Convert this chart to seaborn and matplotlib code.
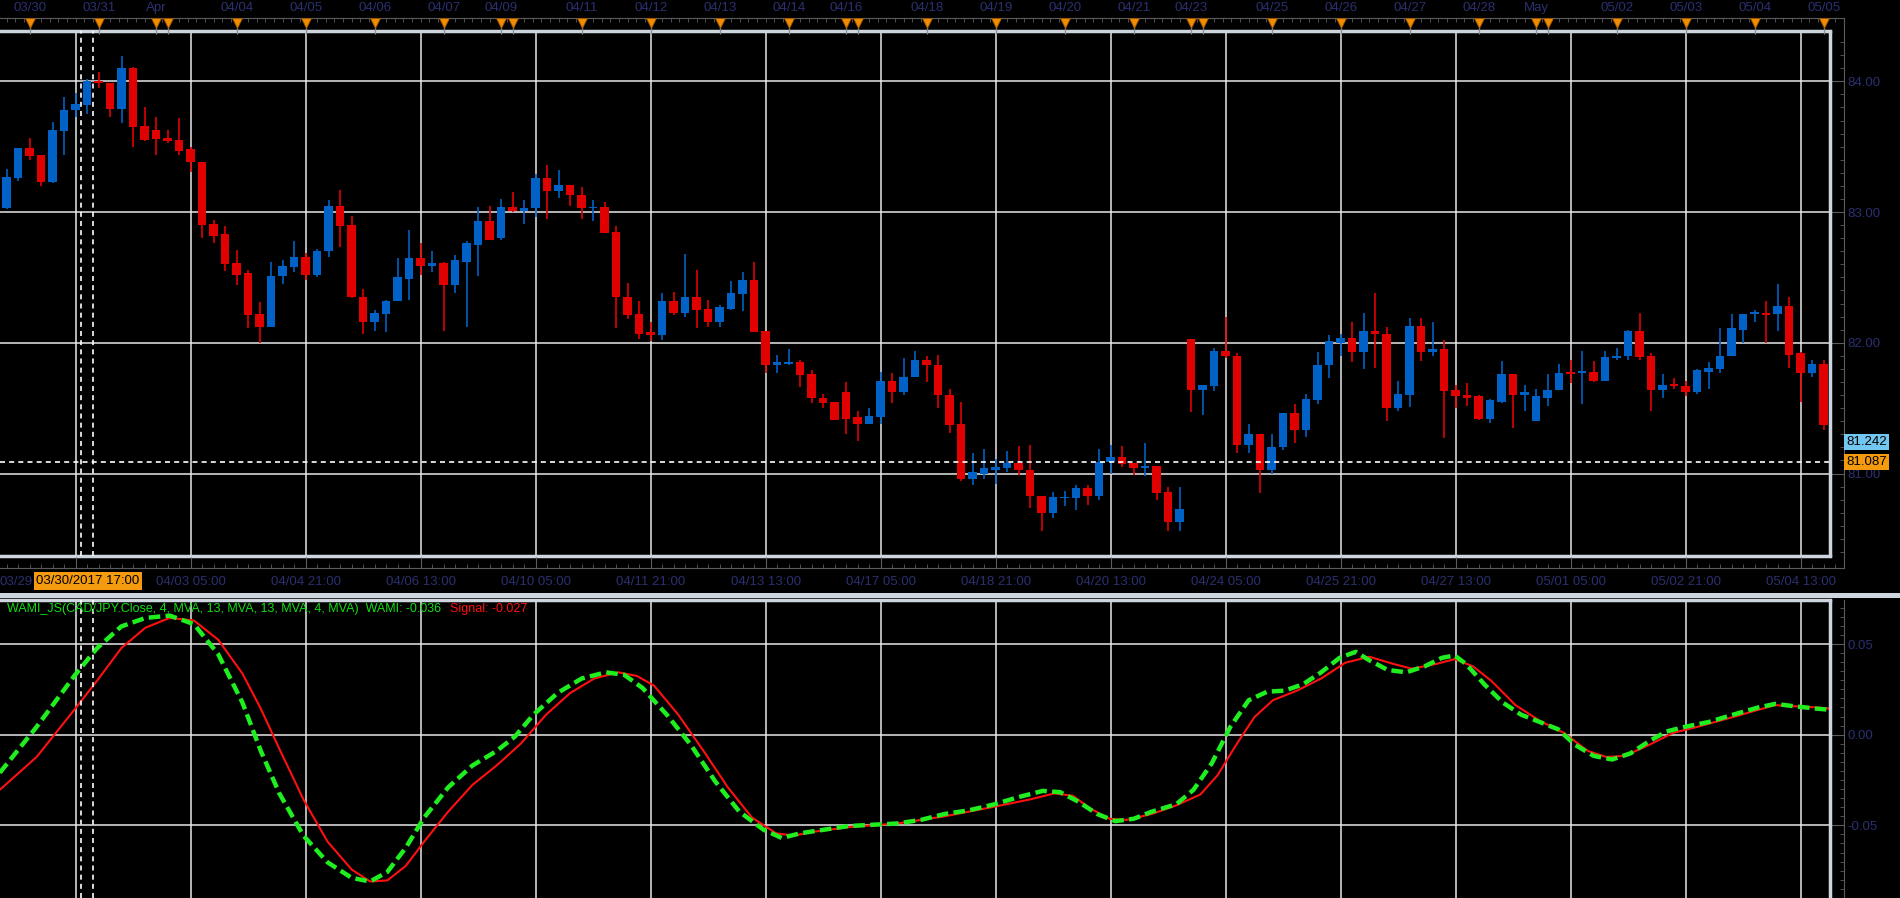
import matplotlib
matplotlib.use("Agg")
import numpy as np
import pandas as pd
import matplotlib.pyplot as plt
from matplotlib.ticker import FixedLocator, MultipleLocator, FormatStrFormatter
from matplotlib.patches import Rectangle
from matplotlib.transforms import blended_transform_factory
import seaborn as sns

# ---------------------- Data (CAD/JPY, 4h candles) ----------------------
opens = [83.03, 83.26, 83.49, 83.44, 83.23, 83.62, 83.78, 83.82, 84.00, 83.99,
         83.79, 84.10, 83.66, 83.63, 83.57, 83.55, 83.48, 83.38, 82.91, 82.83,
         82.61, 82.53, 82.22, 82.12, 82.51, 82.58, 82.66, 82.52, 82.70, 83.05,
         82.90, 82.35, 82.16, 82.22, 82.32, 82.49, 82.65, 82.59, 82.61, 82.44,
         82.62, 82.75, 82.93, 82.80, 83.04, 83.01, 83.03, 83.26, 83.16, 83.21,
         83.13, 83.03, 83.04, 82.85, 82.35, 82.22, 82.08, 82.06, 82.32, 82.23,
         82.35, 82.26, 82.16, 82.26, 82.37, 82.48, 82.09, 81.83, 81.84, 81.85,
         81.76, 81.58, 81.55, 81.62, 81.43, 81.38, 81.43, 81.71, 81.62, 81.74,
         81.87, 81.83, 81.60, 81.38, 80.96, 81.00, 81.03, 81.04, 81.08, 81.03,
         80.83, 80.70, 80.81, 80.81, 80.89, 80.83, 81.09, 81.13, 81.08, 81.04,
         81.06, 80.86, 80.63, 82.03, 81.64, 81.67, 81.94, 81.90, 81.22, 81.30,
         81.03, 81.20, 81.46, 81.33, 81.56, 81.83, 82.00, 82.04, 81.93, 82.09,
         82.07, 81.50, 81.60, 82.13, 81.93, 81.95, 81.64, 81.60, 81.59, 81.42,
         81.55, 81.76, 81.60, 81.40, 81.58, 81.64, 81.775, 81.77, 81.78, 81.71,
         81.88, 81.90, 82.09, 81.90, 81.64, 81.68, 81.67, 81.62, 81.78, 81.80,
         81.90, 82.10, 82.22, 82.225, 82.22, 82.28, 81.92, 81.77, 81.84]
highs = [83.33, 83.49, 83.57, 83.44, 83.69, 83.88, 83.91, 84.02, 84.07, 83.99,
         84.19, 84.11, 83.80, 83.73, 83.63, 83.72, 83.50, 83.38, 82.94, 82.89,
         82.71, 82.56, 82.31, 82.62, 82.63, 82.78, 82.69, 82.72, 83.09, 83.17,
         82.97, 82.41, 82.25, 82.33, 82.65, 82.86, 82.76, 82.70, 82.62, 82.67,
         82.78, 83.04, 83.05, 83.10, 83.15, 83.09, 83.29, 83.36, 83.32, 83.21,
         83.19, 83.09, 83.08, 82.89, 82.46, 82.32, 82.16, 82.38, 82.39, 82.68,
         82.56, 82.33, 82.29, 82.47, 82.54, 82.62, 82.09, 81.91, 81.95, 81.87,
         81.79, 81.61, 81.55, 81.70, 81.48, 81.50, 81.78, 81.77, 81.88, 81.94,
         81.90, 81.91, 81.65, 81.55, 81.16, 81.19, 81.11, 81.17, 81.21, 81.22,
         80.83, 80.86, 80.87, 80.91, 80.91, 81.19, 81.22, 81.21, 81.08, 81.23,
         81.06, 80.90, 80.90, 82.03, 81.68, 81.96, 82.20, 81.92, 81.38, 81.30,
         81.30, 81.46, 81.53, 81.61, 81.93, 82.06, 82.07, 82.16, 82.23, 82.38,
         82.12, 81.71, 82.19, 82.19, 82.16, 82.02, 81.68, 81.69, 81.60, 81.57,
         81.86, 81.76, 81.68, 81.65, 81.76, 81.84, 81.87, 81.94, 81.86, 81.94,
         81.96, 82.10, 82.23, 81.92, 81.76, 81.73, 81.71, 81.80, 81.85, 82.11,
         82.22, 82.22, 82.25, 82.32, 82.45, 82.35, 81.93, 81.87, 81.87]
lows = [83.02, 83.24, 83.40, 83.20, 83.22, 83.44, 83.73, 83.75, 83.95, 83.73,
        83.68, 83.50, 83.54, 83.44, 83.53, 83.44, 83.31, 82.80, 82.76, 82.55,
        82.44, 82.11, 82.00, 82.12, 82.45, 82.54, 82.48, 82.50, 82.66, 82.73,
        82.34, 82.07, 82.09, 82.08, 82.32, 82.33, 82.52, 82.54, 82.09, 82.38,
        82.12, 82.51, 82.79, 82.79, 83.00, 82.91, 82.96, 82.95, 83.11, 83.05,
        82.95, 82.93, 82.84, 82.11, 82.18, 82.03, 82.01, 82.02, 82.21, 82.20,
        82.11, 82.12, 82.12, 82.25, 82.24, 82.08, 81.77, 81.77, 81.83, 81.66,
        81.54, 81.50, 81.41, 81.30, 81.25, 81.38, 81.38, 81.54, 81.60, 81.74,
        81.70, 81.50, 81.31, 80.94, 80.91, 80.96, 80.92, 81.01, 80.99, 80.74,
        80.56, 80.66, 80.75, 80.72, 80.76, 80.80, 81.00, 81.05, 80.99, 80.98,
        80.80, 80.56, 80.56, 81.47, 81.45, 81.63, 81.88, 81.16, 81.16, 80.85,
        81.00, 81.18, 81.23, 81.28, 81.53, 81.73, 81.90, 81.85, 81.80, 81.81,
        81.40, 81.48, 81.51, 81.86, 81.90, 81.27, 81.50, 81.52, 81.41, 81.39,
        81.54, 81.35, 81.48, 81.40, 81.52, 81.64, 81.69, 81.53, 81.70, 81.71,
        81.87, 81.87, 81.87, 81.48, 81.58, 81.65, 81.59, 81.61, 81.65, 81.77,
        81.90, 82.00, 82.16, 82.00, 82.09, 81.81, 81.55, 81.74, 81.33]
closes = [83.27, 83.49, 83.43, 83.23, 83.63, 83.78, 83.83, 84.00, 83.99, 83.79,
          84.10, 83.65, 83.55, 83.56, 83.54, 83.47, 83.38, 82.90, 82.82, 82.60,
          82.52, 82.21, 82.12, 82.51, 82.59, 82.66, 82.52, 82.70, 83.05, 82.89,
          82.35, 82.16, 82.23, 82.32, 82.50, 82.65, 82.59, 82.61, 82.44, 82.63,
          82.76, 82.93, 82.79, 83.04, 83.01, 83.03, 83.26, 83.16, 83.21, 83.13,
          83.03, 83.04, 82.84, 82.35, 82.21, 82.07, 82.06, 82.32, 82.23, 82.35,
          82.25, 82.16, 82.27, 82.38, 82.48, 82.08, 81.83, 81.85, 81.85, 81.75,
          81.58, 81.54, 81.41, 81.42, 81.38, 81.44, 81.71, 81.62, 81.74, 81.87,
          81.83, 81.60, 81.37, 80.96, 81.01, 81.04, 81.05, 81.08, 81.03, 80.83,
          80.70, 80.82, 80.82, 80.89, 80.83, 81.09, 81.13, 81.07, 81.04, 81.06,
          80.85, 80.63, 80.73, 81.64, 81.68, 81.94, 81.90, 81.22, 81.30, 81.03,
          81.20, 81.46, 81.33, 81.57, 81.83, 82.01, 82.04, 81.93, 82.09, 82.07,
          81.50, 81.61, 82.13, 81.93, 81.95, 81.63, 81.59, 81.58, 81.42, 81.56,
          81.76, 81.60, 81.62, 81.59, 81.64, 81.77, 81.765, 81.78, 81.71, 81.89,
          81.90, 82.09, 81.89, 81.64, 81.68, 81.67, 81.62, 81.79, 81.81, 81.90,
          82.11, 82.22, 82.23, 82.215, 82.28, 81.91, 81.77, 81.84, 81.37]

# WAMI (green dashed) and signal (red), read at candle positions
wami_x = [-0.6, 2.6, 5.95, 7.85, 9.96, 12.06, 14.17, 16.28, 18.39, 20.5, 22.1, 23.7,
          25.8, 27.9, 30.0, 31.6, 33.1, 34.7, 36.3, 38.4, 40.5, 42.6, 44.2, 45.8,
          47.9, 50.0, 52.1, 53.7, 55.3, 57.4, 59.5, 61.6, 63.7, 65.8, 67.4, 69.0,
          71.1, 73.2, 75.3, 77.4, 79.5, 81.6, 83.7, 85.9, 88.0, 90.1, 91.6, 93.2,
          94.8, 96.4, 98.0, 99.6, 101.7, 103.2, 104.8, 106.4, 108.0, 109.6, 111.1,
          112.7, 114.3, 115.9, 117.3, 118.5, 120.1, 121.7, 123.3, 124.8, 125.9,
          126.9, 128.5, 130.1, 131.7, 133.3, 134.9, 136.4, 138.0, 139.6, 141.2,
          142.8, 144.3, 145.9, 148.0, 150.1, 152.3, 153.8, 155.4, 157.5, 158.6]
wami_y = [-0.0210, 0.0043, 0.0330, 0.0477, 0.0597, 0.0644, 0.0657, 0.0610, 0.0444,
          0.0177, -0.0090, -0.0323, -0.0557, -0.0704, -0.0790, -0.0810, -0.0757,
          -0.0624, -0.0457, -0.0290, -0.0170, -0.0090, -0.0010, 0.0110, 0.0230,
          0.0310, 0.0344, 0.0330, 0.0257, 0.0110, -0.0057, -0.0257, -0.0424,
          -0.0524, -0.0570, -0.0544, -0.0524, -0.0504, -0.0497, -0.0490, -0.0470,
          -0.0437, -0.0417, -0.0384, -0.0344, -0.0310, -0.0317, -0.0370, -0.0437,
          -0.0477, -0.0464, -0.0424, -0.0384, -0.0304, -0.0157, 0.0043, 0.0190,
          0.0237, 0.0243, 0.0277, 0.0344, 0.0424, 0.0457, 0.0410, 0.0357, 0.0344,
          0.0377, 0.0424, 0.0437, 0.0390, 0.0277, 0.0177, 0.0110, 0.0070, 0.0030,
          -0.0057, -0.0117, -0.0137, -0.0103, -0.0037, 0.0017, 0.0043, 0.0070,
          0.0110, 0.0150, 0.0170, 0.0157, 0.0143, 0.0137]
signal_x = [-0.6, 2.6, 5.95, 7.85, 9.96, 12.06, 14.17, 16.28, 18.39, 20.5, 22.1, 23.7,
            25.8, 27.9, 30.0, 31.6, 33.1, 34.7, 36.3, 38.4, 40.5, 42.6, 44.7, 46.9,
            49.0, 51.1, 53.2, 54.8, 56.3, 58.4, 60.6, 62.7, 64.8, 66.9, 68.5, 70.0,
            73.2, 77.4, 81.6, 85.9, 89.0, 91.1, 92.7, 94.3, 95.9, 97.4, 99.6, 101.7,
            103.8, 105.3, 106.9, 108.5, 110.1, 112.2, 114.3, 116.4, 118.5, 120.6,
            122.2, 124.3, 125.9, 127.5, 129.1, 131.2, 133.3, 135.4, 137.5, 139.1,
            140.7, 142.8, 144.9, 147.0, 150.1, 152.3, 153.8, 155.4, 157.5, 158.6]
signal_y = [-0.0304, -0.0123, 0.0143, 0.0297, 0.0477, 0.0590, 0.0644, 0.0630, 0.0524,
            0.0337, 0.0143, -0.0077, -0.0357, -0.0590, -0.0744, -0.0810, -0.0804,
            -0.0724, -0.0590, -0.0424, -0.0277, -0.0170, -0.0050, 0.0110, 0.0230,
            0.0310, 0.0344, 0.0324, 0.0270, 0.0110, -0.0090, -0.0290, -0.0457,
            -0.0544, -0.0557, -0.0537, -0.0510, -0.0490, -0.0450, -0.0397, -0.0357,
            -0.0324, -0.0337, -0.0410, -0.0464, -0.0470, -0.0437, -0.0390, -0.0330,
            -0.0223, -0.0057, 0.0097, 0.0190, 0.0243, 0.0310, 0.0397, 0.0430, 0.0390,
            0.0364, 0.0390, 0.0417, 0.0377, 0.0297, 0.0163, 0.0077, 0.0010, -0.0090,
            -0.0123, -0.0117, -0.0057, 0.0010, 0.0043, 0.0097, 0.0137, 0.0163,
            0.0157, 0.0150, 0.0143]

# time axis labels
top_idx = [2, 8, 13, 20, 26, 32, 38, 43, 50, 56, 62, 68, 73, 80, 86, 92, 98, 103,
           110, 116, 122, 128, 133, 140, 146, 152, 158]
top_labels = ['03/30', '03/31', 'Apr', '04/04', '04/05', '04/06', '04/07', '04/09',
              '04/11', '04/12', '04/13', '04/14', '04/16', '04/18', '04/19', '04/20',
              '04/21', '04/23', '04/25', '04/26', '04/27', '04/28', 'May', '05/02',
              '05/03', '05/04', '05/05']
extra_marks = [14, 44, 74, 104, 134]
grid_idx = list(range(6, 157, 10))
bottom_labels = ['', '04/03 05:00', '04/04 21:00', '04/06 13:00', '04/10 05:00',
                 '04/11 21:00', '04/13 13:00', '04/17 05:00', '04/18 21:00',
                 '04/20 13:00', '04/24 05:00', '04/25 21:00', '04/27 13:00',
                 '05/01 05:00', '05/02 21:00', '05/04 13:00']
price_ticks = [81, 82, 83, 84]
wami_ticks = [-0.05, 0.0, 0.05]
crosshair_price = 81.087
last_price = 81.242

# ---------------------- Style ----------------------
sns.set_style("ticks")
plt.rcParams['font.family'] = ['Liberation Sans', 'DejaVu Sans']
plt.rcParams['font.size'] = 9.5

W, H = 1900, 898
FRAME = '#cdd5de'
AXIS = '#5c5c5c'
TXT = '#2b3070'
GRID = '#e8e8e8'
UP, DOWN = '#0062c6', '#e00000'
PT = 0.72  # px -> pt at dpi 100


def px2i(x):
    return (x - 6.7) / 11.5


def fpos(x0, y0, x1, y1):
    return [x0 / W, 1 - y1 / H, (x1 - x0) / W, (y1 - y0) / H]


df = pd.DataFrame({'o': opens, 'h': highs, 'l': lows, 'c': closes})
df['x'] = np.arange(len(df))
df['up'] = df['c'] >= df['o']
df['color'] = np.where(df['up'], UP, DOWN)

fig = plt.figure(figsize=(W / 100, H / 100), dpi=100, facecolor='black')

# ---------------------- Price panel ----------------------
ax = fig.add_axes(fpos(0, 31, 1830, 556))
ax.set_facecolor('black')
ax.set_xlim(px2i(0), px2i(1830))
ax.set_ylim(80.369, 84.385)
for g in grid_idx:
    ax.axvline(g, color=GRID, lw=1.1, zorder=1)
for p in price_ticks:
    ax.axhline(p, color=GRID, lw=1.1, zorder=1)

ax.vlines(df['x'], df['l'], df['h'], colors=df['color'], lw=1.2, zorder=3)
body = np.maximum((df['c'] - df['o']).abs(), 0.012)
ax.bar(df['x'], body, bottom=np.minimum(df['o'], df['c']), width=0.74,
       color=df['color'], linewidth=0, zorder=4)

ax.axhline(crosshair_price, color='white', lw=1.2, ls=(0, (3, 2.5)), zorder=6)
for cx in [6.46, 7.5]:
    ax.axvline(cx, color='white', lw=1.2, ls=(0, (3, 2.5)), zorder=6)

ax.spines['left'].set_visible(False)
for s in ['top', 'bottom']:
    ax.spines[s].set_color(FRAME)
    ax.spines[s].set_linewidth(2.5)
ax.plot([1, 1], [0, 1], transform=ax.transAxes, color=FRAME, lw=2.5, clip_on=False, zorder=7)
ax.spines['right'].set_position(('outward', 14 * PT))
ax.spines['right'].set_color(AXIS)
ax.yaxis.tick_right()
ax.yaxis.set_major_locator(FixedLocator(price_ticks))
ax.yaxis.set_major_formatter(FormatStrFormatter('%.2f'))
ax.yaxis.set_minor_locator(MultipleLocator(0.1))
ax.tick_params(axis='y', which='major', direction='in', length=14 * PT, color=AXIS,
               labelcolor=TXT, pad=3 * PT, labelsize=9.5)
ax.tick_params(axis='y', which='minor', direction='in', length=4 * PT, color=AXIS)
ax.tick_params(axis='x', which='both', bottom=False, top=False, labelbottom=False)

tr = blended_transform_factory(fig.transFigure, ax.transData)
ax.text(1846 / W, last_price, '81.242', transform=tr, ha='left', va='center', color='black',
        fontsize=9.5, zorder=10, bbox=dict(boxstyle='square,pad=0.15', fc='#73c6f0', ec='none'))
ax.text(1846 / W, crosshair_price, '81.087', transform=tr, ha='left', va='center', color='black',
        fontsize=9.5, zorder=10, bbox=dict(boxstyle='square,pad=0.15', fc='#f39a0e', ec='none'))

# ---------------------- Top date strip ----------------------
axt = fig.add_axes(fpos(0, 18, 1844, 31))
axt.set_facecolor('none')
axt.set_xlim(px2i(0), px2i(1844))
axt.set_ylim(0, 1)
for s in ['left', 'bottom']:
    axt.spines[s].set_visible(False)
axt.spines['top'].set_color(AXIS)
axt.spines['right'].set_color(AXIS)
axt.set_yticks([])
axt.xaxis.tick_top()
axt.xaxis.set_major_locator(FixedLocator(top_idx))
axt.set_xticklabels(top_labels)
axt.xaxis.set_minor_locator(MultipleLocator(0.75))
axt.tick_params(axis='x', which='major', length=0, pad=4.5 * PT, labelcolor=TXT, labelsize=9.5)
axt.tick_params(axis='x', which='minor', direction='in', length=4 * PT, color=AXIS)
marks = top_idx + extra_marks
axt.vlines(marks, -0.2, 0.6, color='#8c8c8c', lw=0.9, clip_on=False, zorder=4)
axt.scatter(marks, [0.6] * len(marks), marker='v', s=50, c='#f08c00', edgecolors='#9a5400',
            linewidths=0.6, clip_on=False, zorder=5)

# ---------------------- Bottom time strip ----------------------
axb = fig.add_axes(fpos(0, 556, 1844, 568))
axb.set_facecolor('none')
axb.set_xlim(px2i(0), px2i(1844))
axb.set_ylim(0, 1)
for s in ['left', 'top']:
    axb.spines[s].set_visible(False)
axb.spines['bottom'].set_color(AXIS)
axb.spines['right'].set_color(AXIS)
axb.set_yticks([])
axb.xaxis.set_major_locator(FixedLocator(grid_idx))
axb.set_xticklabels(bottom_labels)
axb.xaxis.set_minor_locator(MultipleLocator(1))
axb.tick_params(axis='x', which='major', direction='in', length=11 * PT, color=AXIS,
                pad=8 * PT, labelcolor=TXT, labelsize=9.5)
axb.tick_params(axis='x', which='minor', direction='in', length=4 * PT, color=AXIS)

fig.text(0, 1 - 582 / H, '03/29', ha='left', va='center', color=TXT, fontsize=9.5)
fig.text(88 / W, 1 - 581 / H, '03/30/2017 17:00', ha='center', va='center', color='black',
         fontsize=9.5, zorder=10, bbox=dict(boxstyle='square,pad=0.2', fc='#f39a0e', ec='none'))

fig.patches.append(Rectangle((0, 1 - 597.5 / H), 1, 4.5 / H, transform=fig.transFigure,
                             fc=FRAME, ec='none'))

# ---------------------- WAMI panel ----------------------
ax2 = fig.add_axes(fpos(0, 600, 1830, 898))
ax2.set_facecolor('black')
ax2.set_xlim(px2i(0), px2i(1830))
ax2.set_ylim(-0.0901, 0.0743)
for g in grid_idx:
    ax2.axvline(g, color=GRID, lw=1.1, zorder=1)
for v in wami_ticks:
    ax2.axhline(v, color=GRID, lw=1.1, zorder=1)
for cx in [6.46, 7.5]:
    ax2.axvline(cx, color='white', lw=1.2, ls=(0, (3, 2.5)), zorder=6)

sns.lineplot(x=signal_x, y=signal_y, ax=ax2, color='#ff1010', lw=1.5, sort=False, zorder=3)
sns.lineplot(x=wami_x, y=wami_y, ax=ax2, color='#1fee1f', lw=3.2, sort=False,
             linestyle=(0, (2.6, 1.2)), zorder=4)
ax2.set_xlabel('')
ax2.set_ylabel('')

for s in ['left', 'bottom']:
    ax2.spines[s].set_visible(False)
ax2.spines['top'].set_color(FRAME)
ax2.spines['top'].set_linewidth(2.5)
ax2.plot([1, 1], [0, 1], transform=ax2.transAxes, color=FRAME, lw=2.5, clip_on=False, zorder=7)
ax2.spines['right'].set_position(('outward', 14 * PT))
ax2.spines['right'].set_color(AXIS)
ax2.yaxis.tick_right()
ax2.yaxis.set_major_locator(FixedLocator(wami_ticks))
ax2.yaxis.set_major_formatter(FormatStrFormatter('%.2f'))
ax2.yaxis.set_minor_locator(MultipleLocator(0.005))
ax2.tick_params(axis='y', which='major', direction='in', length=14 * PT, color=AXIS,
                labelcolor=TXT, pad=3 * PT, labelsize=9.5)
ax2.tick_params(axis='y', which='minor', direction='in', length=4 * PT, color=AXIS)
ax2.tick_params(axis='x', which='both', bottom=False, top=False, labelbottom=False)

# legend line: green part, then red signal part right after it
legend_green = fig.text(7 / W, 1 - 609 / H,
                        'WAMI_JS(CAD/JPY.Close, 4, MVA, 13, MVA, 13, MVA, 4, MVA)  WAMI: -0.036',
                        ha='left', va='center', color='#10e010', fontsize=9)
renderer = fig.canvas.get_renderer()
x_end = legend_green.get_window_extent(renderer).x1
fig.text((x_end + 9) / W, 1 - 609 / H, 'Signal: -0.027', ha='left', va='center',
         color='#ff1010', fontsize=9)

fig.savefig('out.png', dpi=100, facecolor='black')
